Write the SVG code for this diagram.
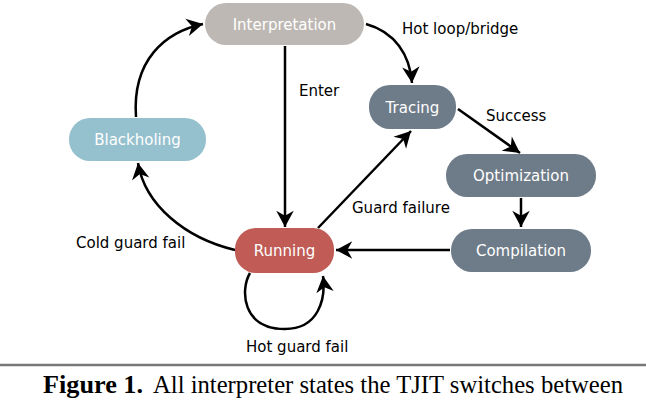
<svg xmlns="http://www.w3.org/2000/svg" width="646" height="400" viewBox="0 0 646 400">
<defs>
<marker id="ah" markerUnits="userSpaceOnUse" markerWidth="20" markerHeight="20" refX="0" refY="0" viewBox="-14 -8 16 16" orient="auto">
<path d="M0,0 L-13,-7 L-9,0 L-13,7 Z" fill="#000"/>
</marker>
</defs>
<style>
.node text{font-family:"DejaVu Sans",Verdana,sans-serif;font-size:15px;fill:#fff;text-anchor:middle}
.lbl{font-family:"DejaVu Sans",Verdana,sans-serif;font-size:15px;fill:#000}
.e{fill:none;stroke:#000;stroke-width:2.5;marker-end:url(#ah)}
.cap{font-family:"Liberation Serif","Times New Roman",serif;font-size:25px;fill:#000}
</style>
<rect width="646" height="400" fill="#fff"/>
<g id="connectors">
<path class="e" d="M285,46 L285,227"/>
<path class="e" d="M366,24 C395,32 410,55 412,83"/>
<path class="e" d="M458,109 L520,153"/>
<path class="e" d="M521,198 L521,227"/>
<path class="e" d="M450,250 L336,250"/>
<path class="e" d="M318,228 L411,131"/>
<path class="e" d="M235,250 C185,238 145,205 138,163"/>
<path class="e" d="M136,117 C132,60 165,32 203,24"/>
<path class="e" d="M250,273 C240,290 242,329 285,329 C318,329 326,300 323,276"/>
</g>
<g id="interpretation" class="node"><rect x="205" y="3" width="159" height="42" rx="21" fill="#bdb8b3"/><text x="284.5" y="29.5">Interpretation</text></g>
<g id="tracing" class="node"><rect x="369" y="85" width="87" height="44" rx="21" fill="#6e7b88"/><text x="412.5" y="112.5">Tracing</text></g>
<g id="optimization" class="node"><rect x="446" y="154" width="150" height="43" rx="21" fill="#6e7b88"/><text x="521" y="181">Optimization</text></g>
<g id="compilation" class="node"><rect x="451" y="229" width="140" height="43" rx="21" fill="#6e7b88"/><text x="521" y="256">Compilation</text></g>
<g id="running" class="node"><rect x="235" y="228" width="99" height="45" rx="21" fill="#c05b55"/><text x="284.5" y="256">Running</text></g>
<g id="blackholing" class="node"><rect x="69" y="118" width="137" height="43" rx="21" fill="#95c0ce"/><text x="137.5" y="145">Blackholing</text></g>
<g id="labels">
<text class="lbl" x="402" y="34">Hot loop/bridge</text>
<text class="lbl" x="299" y="96">Enter</text>
<text class="lbl" x="486" y="121">Success</text>
<text class="lbl" x="352" y="213">Guard failure</text>
<text class="lbl" x="76" y="248">Cold guard fail</text>
<text class="lbl" x="246" y="352">Hot guard fail</text>
</g>
<line x1="0" y1="365" x2="646" y2="365" stroke="#777" stroke-width="2.5"/>
<text class="cap" x="43" y="393" font-weight="bold" textLength="100" lengthAdjust="spacingAndGlyphs">Figure 1.</text>
<text class="cap" x="153" y="393" textLength="470" lengthAdjust="spacingAndGlyphs">All interpreter states the TJIT switches between</text>
</svg>
